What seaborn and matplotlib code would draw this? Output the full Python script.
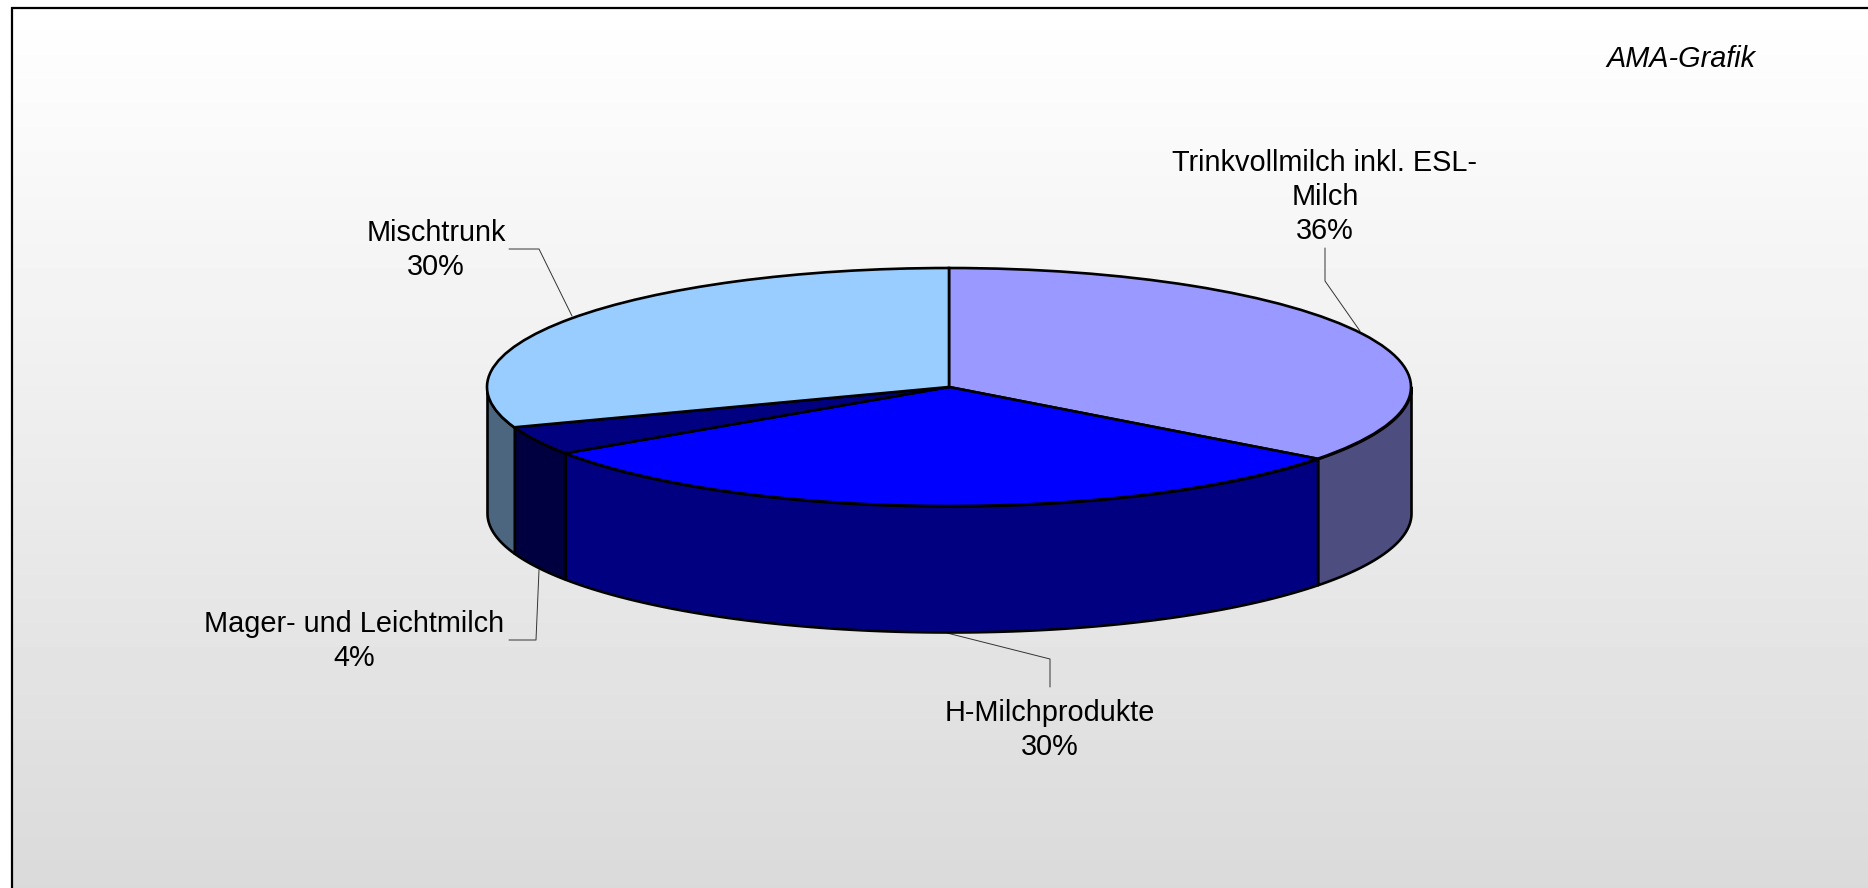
import numpy as np
import matplotlib.pyplot as plt
import seaborn as sns

# ── data ──────────────────────────────────────────────
names = ['Trinkvollmilch inkl. ESL-\nMilch', 'H-Milchprodukte', 'Mager- und Leichtmilch', 'Mischtrunk']
percent_labels = ['36%', '30%', '4%', '30%']
# shares as measured from the slice seams in the picture
shares = [35.3, 30.3, 3.9, 30.5]
top_colors = ['#9999FF', '#0000FF', '#000080', '#99CCFF']
side_colors = ['#4D4D80', '#000080', '#000040', '#4D6680']

W, H = 1868, 888
CX, CY, RX, RY = 949, 387, 462, 119
DEPTH = 126 / RY

sns.set_theme(style='white')
plt.rcParams['font.family'] = ['Liberation Sans', 'DejaVu Sans']
FS = 20.8

fig = plt.figure(figsize=(W / 100, H / 100), dpi=100)
fig.patch.set_facecolor('white')

# background in pixel coordinates
bg = fig.add_axes([0, 0, 1, 1])
bg.set_xlim(0, W)
bg.set_ylim(H, 0)
bg.axis('off')
grad = np.linspace(1, 0.855, 256).reshape(-1, 1)
bg.imshow(grad, extent=[12, W, H, 8], cmap='gray', vmin=0, vmax=1, aspect='auto', zorder=0)
bg.set_xlim(0, W)
bg.set_ylim(H, 0)
bg.plot([12, 12, W], [H, 8, 8], color='black', lw=1.6, zorder=1, solid_joinstyle='miter')

# leader lines
leaders = [
    ([1325, 1325, 1360], [248, 281, 331]),
    ([947, 1050, 1050], [633, 659, 687]),
    ([509, 536, 539], [640, 640, 570]),
    ([509, 539, 572], [249, 249, 316]),
]
for xs, ys in leaders:
    bg.plot(xs, ys, color='#333333', lw=0.7, zorder=2)

# pie: y axis squeezed so radius 1 gives the flat ellipse
ax = fig.add_axes([0, 0, 1, 1], zorder=3)
ax.patch.set_alpha(0)
ax.pie(shares, colors=sns.color_palette(top_colors), startangle=90, counterclock=False,
       radius=1, center=(0, 0), wedgeprops={'edgecolor': 'black', 'linewidth': 1.9, 'zorder': 5})
ax.set_aspect('auto')
ax.set_xlim(-CX / RX, (W - CX) / RX)
ax.set_ylim((CY - H) / RY, CY / RY)

# side walls, only the front half of the rim is visible
edges = np.cumsum([0] + shares) / sum(shares) * 360
for i in range(len(shares)):
    a, b = max(edges[i], 90), min(edges[i + 1], 270)
    if b <= a:
        continue
    t = np.radians(np.linspace(a, b, 100))
    ax.fill_between(np.sin(t), np.cos(t), np.cos(t) - DEPTH, facecolor=side_colors[i],
                    edgecolor='black', linewidth=1.9, zorder=4)

# texts
label_pos = [(1325, 197), (1050, 730), (354, 641), (436, 250)]
for name, pct, (x, y) in zip(names, percent_labels, label_pos):
    bg.text(x, y, f'{name}\n{pct}', ha='center', va='center', fontsize=FS,
            linespacing=1.29, color='black', zorder=6)
bg.text(1756, 59, 'AMA-Grafik', ha='right', va='center', fontsize=FS, style='italic', color='black')

plt.savefig('out.png', dpi=100)
plt.close()
